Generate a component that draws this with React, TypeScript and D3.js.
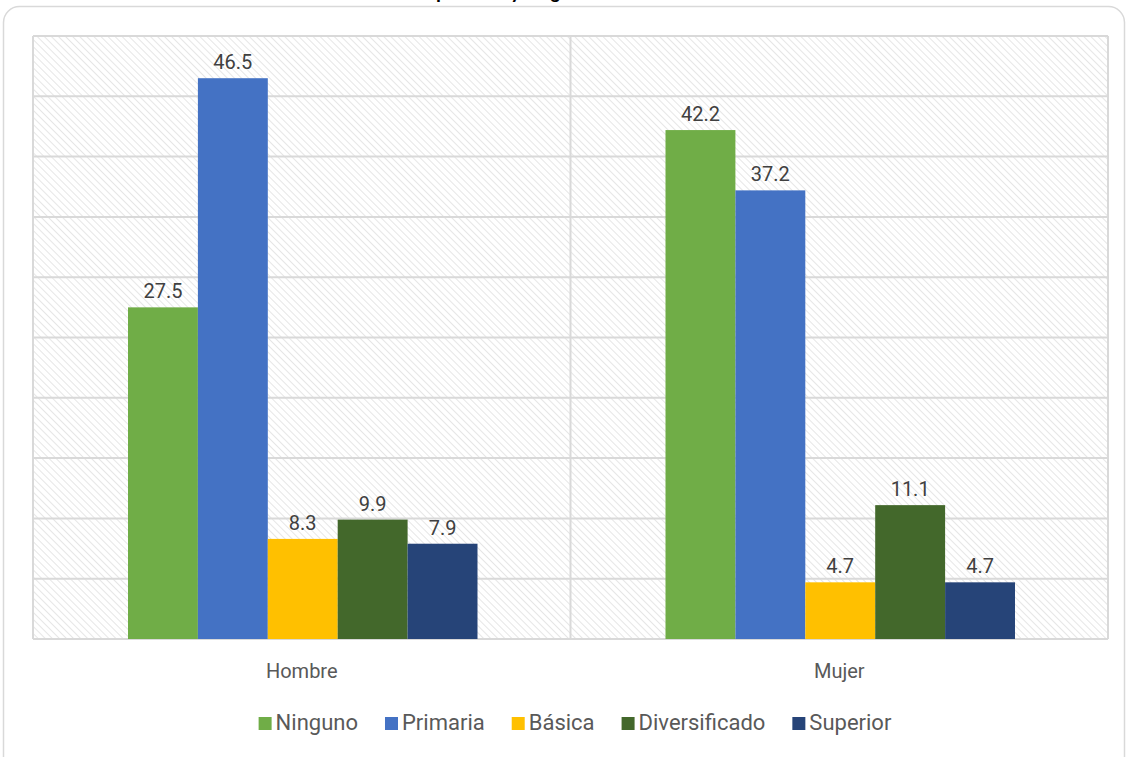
import React, { useEffect, useRef } from 'react';
import * as d3 from 'd3';

const categories = ['Hombre', 'Mujer'];
const seriesNames = ['Ninguno', 'Primaria', 'Básica', 'Diversificado', 'Superior'];
const ninguno = [27.5, 42.2];
const primaria = [46.5, 37.2];
const basica = [8.3, 4.7];
const diversificado = [9.9, 11.1];
const superior = [7.9, 4.7];
const yTicks = [0, 5, 10, 15, 20, 25, 30, 35, 40, 45, 50];

const colors = ['#70ad47', '#4472c4', '#ffc000', '#43682b', '#264478'];
const seriesValues = [ninguno, primaria, basica, diversificado, superior];

const App: React.FC = () => {
  const svgRef = useRef<SVGSVGElement | null>(null);

  useEffect(() => {
    if (svgRef.current) draw();
  }, []);

  const draw = () => {
    const svg = d3.select(svgRef.current);
    svg.selectAll('*').remove();

    const plot = { left: 33, right: 1108, top: 36, bottom: 639 };
    const font = 'Roboto, "Open Sans", sans-serif';

    // hatch pattern for the plot background
    const defs = svg.append('defs');
    const pat = defs.append('pattern')
      .attr('id', 'hatch')
      .attr('patternUnits', 'userSpaceOnUse')
      .attr('width', 5)
      .attr('height', 5)
      .attr('patternTransform', 'rotate(-45)');
    pat.append('rect').attr('width', 5).attr('height', 5).attr('fill', '#ffffff');
    pat.append('line')
      .attr('x1', 0).attr('y1', 0).attr('x2', 0).attr('y2', 5)
      .attr('stroke', '#dcdcdc').attr('stroke-width', 1.4);

    // chart frame
    svg.append('rect')
      .attr('x', 3.5).attr('y', 6.5)
      .attr('width', 1121).attr('height', 800)
      .attr('rx', 16)
      .attr('fill', '#ffffff')
      .attr('stroke', '#d9d9d9')
      .attr('stroke-width', 1.5);

    // title (its top lies above the visible area, as in the source)
    svg.append('text')
      .attr('x', 442).attr('y', -1)
      .attr('text-anchor', 'middle')
      .attr('font-family', 'Calibri, "Liberation Sans", sans-serif')
      .attr('font-weight', 'bold')
      .attr('font-size', 20)
      .attr('fill', '#000000')
      .text('Nivel educativo por sexo y lengua');

    const x0 = d3.scaleBand<string>()
      .domain(categories)
      .range([plot.left, plot.right]);

    const gap = 95;
    const x1 = d3.scaleBand<string>()
      .domain(seriesNames)
      .range([gap, x0.bandwidth() - gap + 2]);

    const y = d3.scaleLinear()
      .domain([0, 50])
      .range([plot.bottom, plot.top]);

    svg.append('rect')
      .attr('x', plot.left).attr('y', plot.top)
      .attr('width', plot.right - plot.left)
      .attr('height', plot.bottom - plot.top)
      .attr('fill', 'url(#hatch)');

    // gridlines
    svg.append('g')
      .selectAll('line')
      .data(yTicks)
      .enter().append('line')
      .attr('x1', plot.left).attr('x2', plot.right)
      .attr('y1', d => y(d)).attr('y2', d => y(d))
      .attr('stroke', '#d9d9d9')
      .attr('stroke-width', 2);

    // vertical separators
    const seps = [plot.left, (x0(categories[1]) || 0), plot.right];
    svg.append('g')
      .selectAll('line')
      .data(seps)
      .enter().append('line')
      .attr('x1', d => d).attr('x2', d => d)
      .attr('y1', plot.top).attr('y2', plot.bottom)
      .attr('stroke', '#d9d9d9')
      .attr('stroke-width', 2);

    // bars
    const rows = categories.map((c, i) => ({
      category: c,
      values: seriesNames.map((s, j) => ({ series: s, value: seriesValues[j][i], color: colors[j] })),
    }));

    const groups = svg.append('g')
      .selectAll('g')
      .data(rows)
      .enter().append('g')
      .attr('transform', d => `translate(${x0(d.category)},0)`);

    groups.selectAll('rect')
      .data(d => d.values)
      .enter().append('rect')
      .attr('x', d => x1(d.series) || 0)
      .attr('y', d => y(d.value))
      .attr('width', x1.bandwidth())
      .attr('height', d => plot.bottom - y(d.value))
      .attr('fill', d => d.color);

    groups.selectAll('text')
      .data(d => d.values)
      .enter().append('text')
      .attr('x', d => (x1(d.series) || 0) + x1.bandwidth() / 2)
      .attr('y', d => y(d.value) - 9)
      .attr('text-anchor', 'middle')
      .attr('font-family', font)
      .attr('font-size', 20)
      .attr('fill', '#404040')
      .text(d => d.value.toFixed(1));

    // category labels
    svg.append('g')
      .selectAll('text')
      .data(categories)
      .enter().append('text')
      .attr('x', d => (x0(d) || 0) + x0.bandwidth() / 2)
      .attr('y', 678)
      .attr('text-anchor', 'middle')
      .attr('font-family', font)
      .attr('font-size', 20)
      .attr('fill', '#595959')
      .text(d => d);

    // legend
    const legend = svg.append('g');
    const items = legend.selectAll('g')
      .data(seriesNames)
      .enter().append('g');
    items.append('rect')
      .attr('y', 717)
      .attr('width', 13).attr('height', 13)
      .attr('fill', (d, i) => colors[i]);
    items.append('text')
      .attr('x', 17)
      .attr('y', 730)
      .attr('font-family', font)
      .attr('font-size', 22)
      .attr('fill', '#595959')
      .text(d => d);

    let cursor = 0;
    const offsets: number[] = [];
    items.each(function () {
      offsets.push(cursor);
      const t = (this as SVGGElement).querySelector('text') as SVGTextElement;
      cursor += 17 + t.getComputedTextLength() + 27;
    });
    const total = cursor - 27;
    const start = 575 - total / 2;
    items.attr('transform', (d, i) => `translate(${start + offsets[i]},0)`);
  };

  return (
    <svg
      ref={svgRef}
      width={1128}
      height={757}
      style={{ position: 'absolute', left: 0, top: 0 }}
    />
  );
};

export default App;
